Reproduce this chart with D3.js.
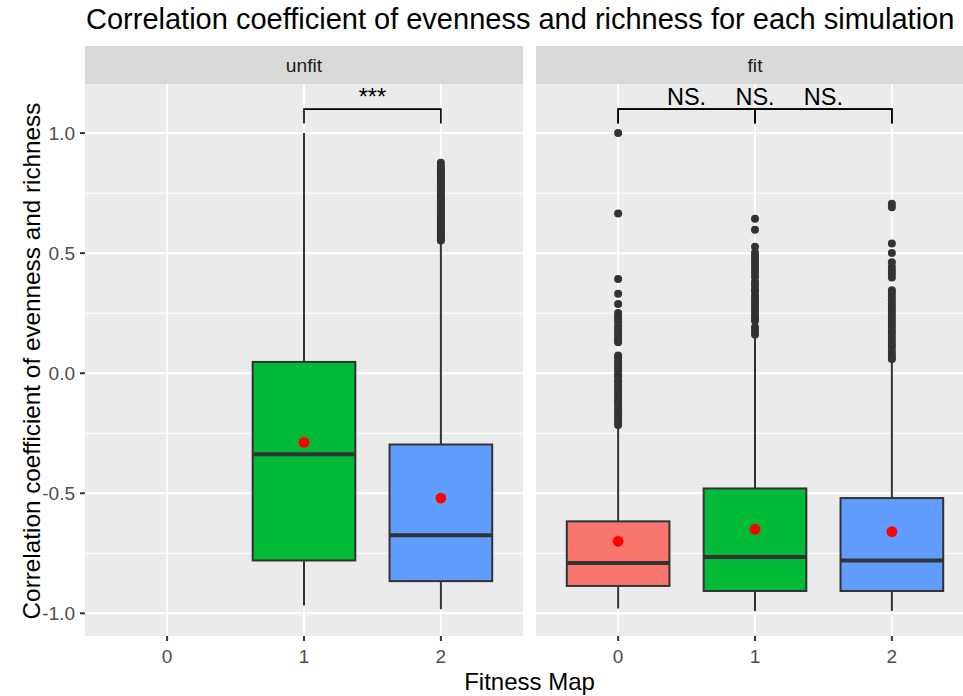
<!DOCTYPE html>
<html lang="en">
<head>
<meta charset="UTF-8">
<title>Correlation coefficient of evenness and richness</title>
<script src="https://cdnjs.cloudflare.com/ajax/libs/d3/7.9.0/d3.min.js"></script>
<style>
  body { margin: 0; background: #fff; }
  text { font-family: "Liberation Sans", Arial, sans-serif; }
</style>
</head>
<body>
<svg id="chart" width="963" height="696"></svg>
<script>
// ---- data ----
const panels = ["unfit", "fit"];
const fitnessMaps = ["0", "1", "2"];
const mapColors = ["#F8766D", "#00BA38", "#619CFF"];

// one entry per box
const boxPanel     = ["unfit", "unfit", "fit", "fit", "fit"];
const boxMap       = ["1", "2", "0", "1", "2"];
const lowerWhisker = [-0.967, -0.983, -0.980, -0.990, -0.990];
const lowerHinge   = [-0.780, -0.866, -0.886, -0.907, -0.907];
const medians      = [-0.338, -0.675, -0.790, -0.765, -0.780];
const upperHinge   = [0.047, -0.297, -0.617, -0.480, -0.520];
const upperWhisker = [1.000, 0.545, -0.213, 0.158, 0.060];
const means        = [-0.288, -0.520, -0.700, -0.650, -0.660];

const outliersUnfit1 = [];
const outliersUnfit2 = [0.553, 0.557, 0.566, 0.571, 0.579, 0.588, 0.594, 0.604, 0.611, 0.619,
  0.629, 0.634, 0.645, 0.651, 0.661, 0.667, 0.677, 0.685, 0.692, 0.702, 0.709, 0.719, 0.727,
  0.734, 0.744, 0.751, 0.761, 0.767, 0.778, 0.784, 0.796, 0.802, 0.813, 0.821, 0.829, 0.838,
  0.846, 0.852, 0.861, 0.876];
const outliersFit0 = [1.0, 0.665, 0.392, 0.331, 0.288, 0.251, 0.238, 0.226, 0.213, 0.196,
  0.184, 0.171, 0.162, 0.149, 0.138, 0.129, 0.074, 0.066, 0.052, 0.043, 0.031, 0.022, 0.009,
  -0.004, -0.013, -0.027, -0.035, -0.048, -0.056, -0.069, -0.081, -0.088, -0.101, -0.112,
  -0.123, -0.131, -0.146, -0.154, -0.167, -0.176, -0.188, -0.197, -0.206, -0.216];
const outliersFit1 = [0.643, 0.597, 0.527, 0.502, 0.487, 0.471, 0.458, 0.443, 0.429, 0.416,
  0.401, 0.381, 0.368, 0.352, 0.341, 0.324, 0.309, 0.296, 0.283, 0.268, 0.256, 0.241, 0.229,
  0.218, 0.191, 0.176, 0.161];
const outliersFit2 = [0.706, 0.691, 0.540, 0.501, 0.462, 0.442, 0.428, 0.414, 0.399, 0.346,
  0.333, 0.318, 0.304, 0.289, 0.276, 0.262, 0.249, 0.233, 0.221, 0.207, 0.193, 0.179, 0.166,
  0.151, 0.137, 0.122, 0.109, 0.093, 0.079, 0.066, 0.059];
const outliers = [outliersUnfit1, outliersUnfit2, outliersFit0, outliersFit1, outliersFit2];

// significance comparisons
const sigPanel = ["unfit", "fit", "fit", "fit"];
const sigFrom  = ["1", "0", "0", "1"];
const sigTo    = ["2", "1", "2", "2"];
const sigLabel = ["***", "NS.", "NS.", "NS."];
const sigLevel = 1.1;
const sigTip = 1.04;

const yTicks = [-1.0, -0.5, 0.0, 0.5, 1.0];
const yMinor = [-0.75, -0.25, 0.25, 0.75];

// ---- layout ----
const svg = d3.select("#chart");
const panelTop = 84, panelBottom = 636, stripTop = 46;
const panelLeft = { unfit: 85, fit: 536 };
const panelWidth = 438;

// y domain: data range plus ggplot's 5% expansion
const lo = d3.min(lowerWhisker), hi = Math.max(d3.max(upperWhisker), sigLevel);
const pad = (hi - lo) * 0.05;
const y = d3.scaleLinear().domain([lo - pad, hi + pad]).range([panelBottom, panelTop]);

const x = d3.scalePoint().domain(fitnessMaps).range([0, panelWidth]).padding(0.6);
const boxW = x.step() * 0.75;

// title
svg.append("text")
  .attr("x", 86).attr("y", 29)
  .attr("font-size", 29).attr("fill", "#000")
  .text("Correlation coefficient of evenness and richness for each simulation");

panels.forEach(function (p) {
  const g = svg.append("g").attr("transform", `translate(${panelLeft[p]},0)`);

  // strip
  g.append("rect").attr("x", 0).attr("y", stripTop)
    .attr("width", panelWidth).attr("height", panelTop - stripTop).attr("fill", "#D9D9D9");
  g.append("text").attr("x", panelWidth / 2).attr("y", (stripTop + panelTop) / 2)
    .attr("dy", "0.35em").attr("text-anchor", "middle")
    .attr("font-size", 19.2).attr("fill", "#1A1A1A").text(p);

  // panel background + grid
  g.append("rect").attr("x", 0).attr("y", panelTop)
    .attr("width", panelWidth).attr("height", panelBottom - panelTop).attr("fill", "#EBEBEB");
  g.selectAll(".minor").data(yMinor).enter().append("line")
    .attr("x1", 0).attr("x2", panelWidth)
    .attr("y1", d => y(d)).attr("y2", d => y(d))
    .attr("stroke", "#fff").attr("stroke-width", 1);
  g.selectAll(".major").data(yTicks).enter().append("line")
    .attr("x1", 0).attr("x2", panelWidth)
    .attr("y1", d => y(d)).attr("y2", d => y(d))
    .attr("stroke", "#fff").attr("stroke-width", 2);
  g.selectAll(".vmajor").data(fitnessMaps).enter().append("line")
    .attr("x1", d => x(d)).attr("x2", d => x(d))
    .attr("y1", panelTop).attr("y2", panelBottom)
    .attr("stroke", "#fff").attr("stroke-width", 2);

  // x axis ticks + labels
  g.selectAll(".xtick").data(fitnessMaps).enter().append("line")
    .attr("x1", d => x(d)).attr("x2", d => x(d))
    .attr("y1", panelBottom).attr("y2", panelBottom + 5)
    .attr("stroke", "#333").attr("stroke-width", 2);
  g.selectAll(".xlab").data(fitnessMaps).enter().append("text")
    .attr("x", d => x(d)).attr("y", 663)
    .attr("text-anchor", "middle").attr("font-size", 19)
    .attr("fill", "#4D4D4D").text(d => d);

  // boxes
  d3.range(boxPanel.length).filter(i => boxPanel[i] === p).forEach(function (i) {
    const cx = x(boxMap[i]);
    const col = mapColors[fitnessMaps.indexOf(boxMap[i])];
    const b = g.append("g");
    b.append("line").attr("x1", cx).attr("x2", cx)
      .attr("y1", y(upperHinge[i])).attr("y2", y(upperWhisker[i]))
      .attr("stroke", "#333").attr("stroke-width", 2);
    b.append("line").attr("x1", cx).attr("x2", cx)
      .attr("y1", y(lowerHinge[i])).attr("y2", y(lowerWhisker[i]))
      .attr("stroke", "#333").attr("stroke-width", 2);
    b.append("rect")
      .attr("x", cx - boxW / 2).attr("width", boxW)
      .attr("y", y(upperHinge[i])).attr("height", y(lowerHinge[i]) - y(upperHinge[i]))
      .attr("fill", col).attr("stroke", "#333").attr("stroke-width", 2);
    b.append("line").attr("x1", cx - boxW / 2).attr("x2", cx + boxW / 2)
      .attr("y1", y(medians[i])).attr("y2", y(medians[i]))
      .attr("stroke", "#333").attr("stroke-width", 4);
    b.selectAll("circle.out").data(outliers[i]).enter().append("circle")
      .attr("cx", cx).attr("cy", d => y(d)).attr("r", 4)
      .attr("fill", "#333");
    b.append("circle").attr("cx", cx).attr("cy", y(means[i])).attr("r", 5.4)
      .attr("fill", "#FF0000");
  });

  // significance brackets
  d3.range(sigPanel.length).filter(i => sigPanel[i] === p).forEach(function (i) {
    const x1 = x(sigFrom[i]), x2 = x(sigTo[i]);
    g.append("path")
      .attr("d", `M${x1},${y(sigTip)}V${y(sigLevel)}H${x2}V${y(sigTip)}`)
      .attr("fill", "none").attr("stroke", "#000").attr("stroke-width", 1.6);
    g.append("text").attr("x", (x1 + x2) / 2).attr("y", y(sigLevel) - 4)
      .attr("text-anchor", "middle").attr("font-size", 23.5)
      .attr("fill", "#000").text(sigLabel[i]);
  });
});

// y axis (left panel only)
svg.selectAll(".ytick").data(yTicks).enter().append("line")
  .attr("x1", panelLeft.unfit - 5).attr("x2", panelLeft.unfit)
  .attr("y1", d => y(d)).attr("y2", d => y(d))
  .attr("stroke", "#333").attr("stroke-width", 2);
svg.selectAll(".ylab").data(yTicks).enter().append("text")
  .attr("x", panelLeft.unfit - 10).attr("y", d => y(d)).attr("dy", "0.35em")
  .attr("text-anchor", "end").attr("font-size", 19).attr("fill", "#4D4D4D")
  .text(d => d3.format(".1f")(d).replace("−", "-"));

// axis titles
svg.append("text")
  .attr("x", (panelLeft.unfit + panelLeft.fit + panelWidth) / 2).attr("y", 690)
  .attr("text-anchor", "middle").attr("font-size", 24).attr("fill", "#000")
  .text("Fitness Map");
svg.append("text")
  .attr("transform", `translate(40,${(panelTop + panelBottom) / 2 + 1}) rotate(-90)`)
  .attr("text-anchor", "middle").attr("font-size", 24.3).attr("fill", "#000")
  .text("Correlation coefficient of evenness and richness");
</script>
</body>
</html>
